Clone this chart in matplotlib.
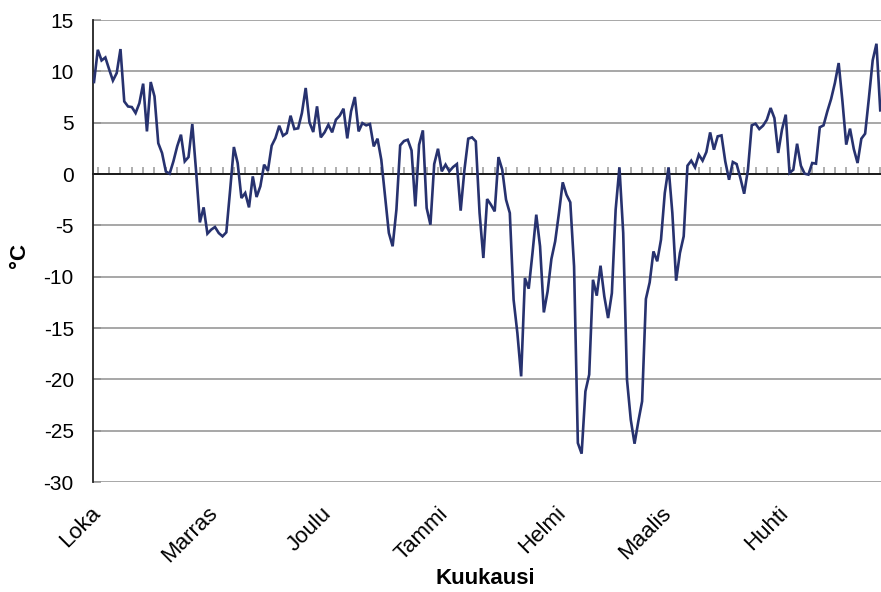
import numpy as np
import matplotlib
matplotlib.use('Agg')
import matplotlib.pyplot as plt
from matplotlib import transforms

plt.rcParams['font.family'] = ['Liberation Sans', 'DejaVu Sans']
plt.rcParams['axes.unicode_minus'] = False

# daily mean temperature, 1 Oct onwards (day index 0 = 1 Oct)
temps = [
    8.96, 12.1, 11.06, 11.35, 10.2, 9.1, 9.83, 12.17, 7.07, 6.58,
    6.52, 5.94, 6.9, 8.8, 4.15, 8.96, 7.56, 3.0, 2.04, 0.25,
    0.03, 1.23, 2.69, 3.83, 1.23, 1.65, 4.87, 0.3, -4.71, -3.25,
    -5.81, -5.42, -5.16, -5.75, -6.07, -5.68, -1.6, 2.63, 1.07, -2.34,
    -1.85, -3.25, -0.23, -2.24, -1.2, 0.91, 0.32, 2.76, 3.5, 4.7,
    3.73, 3.99, 5.68, 4.38, 4.45, 5.94, 8.38, 5.03, 4.09, 6.59,
    3.57, 4.06, 4.8, 4.06, 5.29, 5.68, 6.36, 3.47, 6.1, 7.5,
    4.15, 4.96, 4.74, 4.87, 2.69, 3.44, 1.39, -2.2, -5.74, -7.04,
    -3.47, 2.79, 3.21, 3.34, 2.3, -3.15, 2.85, 4.25, -3.31, -4.94,
    0.97, 2.46, 0.26, 0.91, 0.26, 0.68, 0.97, -3.57, 0.42, 3.44,
    3.57, 3.18, -3.8, -8.18, -2.44, -2.99, -3.64, 1.65, 0.42, -2.5,
    -3.8, -12.24, -15.49, -19.71, -10.13, -11.17, -7.7, -3.96, -7.04, -13.48,
    -11.43, -8.28, -6.56, -3.8, -0.81, -2.02, -2.76, -9.0, -26.2, -27.24,
    -21.17, -19.54, -10.3, -11.85, -8.93, -11.92, -14.03, -11.6, -3.47, 0.65,
    -5.74, -20.03, -23.93, -26.27, -24.09, -22.14, -12.17, -10.56, -7.54, -8.5,
    -6.39, -1.85, 0.65, -3.8, -10.39, -7.7, -6.07, 0.81, 1.3, 0.65,
    1.88, 1.3, 2.14, 4.05, 2.37, 3.67, 3.76, 1.23, -0.56, 1.17,
    0.97, -0.4, -1.92, 0.42, 4.74, 4.9, 4.38, 4.71, 5.29, 6.43,
    5.45, 2.05, 4.32, 5.78, 0.1, 0.42, 2.95, 0.81, 0.03, -0.06,
    1.07, 1.01, 4.55, 4.74, 6.1, 7.31, 8.86, 10.81, 7.08, 2.86,
    4.42, 2.44, 1.07, 3.44, 3.93, 7.4, 11.07, 12.69, 6.2,
]
days = np.arange(len(temps))

month_names = ['Loka', 'Marras', 'Joulu', 'Tammi', 'Helmi', 'Maalis', 'Huhti']
month_lengths = [31, 30, 31, 31, 28, 31, 30]
month_starts = np.concatenate([[0], np.cumsum(month_lengths)[:-1]])

line_color = '#27326f'
grid_color = '#8f8f8f'

fig = plt.figure(figsize=(8.81, 5.92), dpi=100)
ax = fig.add_axes([0.1059, 0.1858, 0.8941, 0.7804])

ax.plot(days, temps, color=line_color, lw=1.9, solid_joinstyle='miter', zorder=3)

ax.set_xlim(-0.19, 208.2)
ax.set_ylim(-30, 15)
ax.set_yticks(np.arange(-30, 16, 5))
ax.yaxis.grid(True, color=grid_color, lw=1.1)
ax.set_axisbelow(True)
ax.tick_params(axis='y', direction='in', length=6, width=1.1, color=grid_color,
               pad=14, labelsize=15)

for s in ['top', 'right']:
    ax.spines[s].set_visible(False)
ax.spines['left'].set_color('#222222')
ax.spines['left'].set_linewidth(1.3)

# x axis crosses at zero, small ticks every third day
ax.spines['bottom'].set_position(('data', 0))
ax.spines['bottom'].set_color('#111111')
ax.spines['bottom'].set_linewidth(1.3)
ax.spines['bottom'].set_zorder(2)
ax.set_xticks([])
ax.set_xticks(np.arange(1, 209, 3), minor=True)
ax.tick_params(axis='x', which='minor', direction='in', length=5, width=1.1,
               color='#999999')

# month labels along the bottom of the plot area
sec = ax.secondary_xaxis(0.0)
sec.set_xticks(month_starts, month_names)
sec.tick_params(length=0, pad=15, labelsize=16)
sec.spines['bottom'].set_visible(False)
offset = transforms.ScaledTranslation(-4 / 100, 0, fig.dpi_scale_trans)
for lab in sec.get_xticklabels():
    lab.set_rotation(45)
    lab.set_ha('right')
    lab.set_va('top')
    lab.set_rotation_mode('anchor')
    lab.set_transform(lab.get_transform() + offset)

fig.text(485 / 881, 1 - 578 / 592, 'Kuukausi', ha='center', va='center',
         fontsize=16, fontweight='bold')
fig.text(19 / 881, 1 - 255 / 592, '°C', ha='center', va='center',
         rotation=90, fontsize=16, fontweight='bold')

fig.savefig('out.png', dpi=100)
